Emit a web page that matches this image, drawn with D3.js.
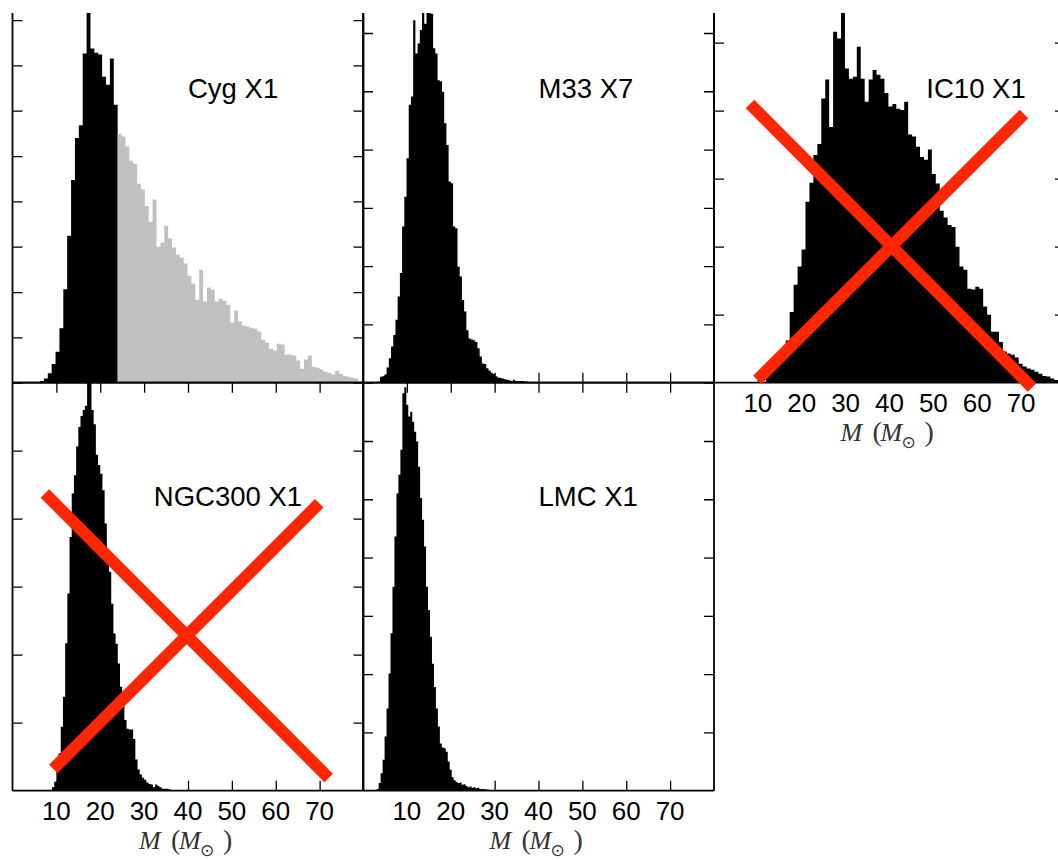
<!DOCTYPE html>
<html><head><meta charset="utf-8">
<script src="https://cdn.jsdelivr.net/npm/d3@7"></script>
<style>html,body{margin:0;padding:0;background:#fff;} svg{display:block;}</style>
</head><body>
<svg id="chart" width="1058" height="860"></svg>
<script>
// ---------------- DATA ----------------
const massDomain = [0, 80];
const xTickValues = [10, 20, 30, 40, 50, 60, 70];
const xTickLabels = ["10", "20", "30", "40", "50", "60", "70"];
const panelNames = ["Cyg X1", "M33 X7", "IC10 X1", "NGC300 X1", "LMC X1"];
const axisTitleMain = "M", axisTitleSub = "⊙";

// Cyg X1 (bin start / width in solar masses)
const cygBinStart = 6.27, cygBinWidth = 0.885;
const cygBlackCounts = [4, 9, 21, 41, 68, 120, 206, 324, 447, 540, 568, 726, 840, 737, 728, 724, 675, 657, 715, 613];
const cygGrayCounts = [549, 543, 521, 490, 483, 439, 426, 390, 355, 404, 300, 309, 346, 318, 298, 282, 276, 263, 236, 218,
  183, 249, 179, 210, 205, 179, 185, 181, 172, 132, 159, 135, 126, 124, 121, 119, 113, 95, 88, 75,
  71, 86, 84, 62, 62, 60, 49, 31, 51, 60, 35, 33, 29, 24, 22, 18, 26, 20, 15, 13, 11, 9, 4];

// M33 X7
const m33BinStart = 2.85, m33BinWidth = 0.505;
const m33Counts = [1, 2, 10, 11, 14, 26, 42, 62, 82, 108, 148, 188, 268, 319, 385, 477, 491, 622, 565, 582,
  605, 645, 616, 645, 638, 633, 574, 565, 519, 517, 499, 445, 408, 345, 342, 268, 265, 199, 182, 142,
  122, 90, 76, 74, 73, 70, 59, 45, 33, 32, 25, 21, 17, 15, 11, 9, 8, 7, 6, 5, 4, 3, 5, 3, 3, 3, 3, 2, 2, 1, 1];

// IC10 X1
const ic10BinStart = 11.85, ic10BinWidth = 0.9;
const ic10Counts = [16, 21, 25, 32, 44, 62, 104, 144, 171, 196, 266, 294, 335, 351, 418, 446, 376, 516, 506, 560,
  462, 447, 450, 494, 447, 413, 446, 460, 453, 447, 426, 406, 410, 403, 401, 413, 365, 362, 347, 332,
  328, 343, 307, 293, 253, 243, 232, 229, 200, 171, 166, 138, 137, 141, 138, 112, 100, 75, 75, 60,
  46, 43, 41, 37, 28, 24, 21, 19, 16, 13, 10, 9, 6, 4];

// NGC300 X1
const ngcBinStart = 9.0, ngcBinWidth = 0.5;
const ngcCounts = [5, 13, 30, 55, 94, 138, 217, 290, 373, 437, 464, 506, 535, 551, 560, 566, 620, 620, 560, 539,
  494, 479, 466, 442, 393, 340, 322, 275, 231, 216, 187, 153, 128, 104, 91, 90, 90, 76, 46, 31,
  24, 19, 16, 12, 10, 9, 5, 9, 7, 5, 3, 3, 3, 2, 1];

// LMC X1
const lmcBinStart = 3.12, lmcBinWidth = 0.45;
const lmcCounts = [3, 13, 30, 53, 93, 141, 201, 270, 350, 436, 510, 542, 585, 682, 692, 662, 642, 650, 633, 616,
  599, 556, 502, 465, 419, 350, 310, 264, 218, 178, 141, 110, 81, 74, 73, 67, 50, 36, 23, 18,
  15, 13, 14, 10, 11, 8, 6, 7, 5, 6, 4, 5, 3, 3, 3, 2, 2, 1];

// y-axis extents (counts) and tick step per panel
const yMaxes = [900, 700, 600, 600, 700];
const yTickStep = 100;

// ---------------- LAYOUT ----------------
const colLeft = [12.5, 363, 714];
const rowBottom = [382.7, 790.7];
const panelW = 351, panelH = 408, visibleTop = 13, tickLen = 10;
const fontSans = "'Liberation Sans', Arial, Helvetica, sans-serif";
const fontSerif = "'Liberation Serif', 'DejaVu Serif', 'Times New Roman', serif";
const redColor = "#ff2600";

const panels = [
  { name: panelNames[0], col: 0, row: 0, yMax: yMaxes[0], labelMass: 40, tickLabels: false,
    series: [
      { start: cygBinStart, width: cygBinWidth, counts: cygBlackCounts, color: "#000" },
      { start: cygBinStart + cygBlackCounts.length * cygBinWidth, width: cygBinWidth, counts: cygGrayCounts, color: "#c0c0c0" }
    ], cross: null },
  { name: panelNames[1], col: 1, row: 0, yMax: yMaxes[1], labelMass: 40, tickLabels: false,
    series: [{ start: m33BinStart, width: m33BinWidth, counts: m33Counts, color: "#000" }], cross: null },
  { name: panelNames[2], col: 2, row: 0, yMax: yMaxes[2], labelMass: 48.4, tickLabels: true,
    series: [{ start: ic10BinStart, width: ic10BinWidth, counts: ic10Counts, color: "#000" }],
    cross: [[[8.2, 410], [72.5, -7]], [[9.87, 4], [70.65, 395]]] },
  { name: panelNames[3], col: 0, row: 1, yMax: yMaxes[3], labelMass: 32.2, tickLabels: true,
    series: [{ start: ngcBinStart, width: ngcBinWidth, counts: ngcCounts, color: "#000" }],
    cross: [[[7.4, 437], [72.07, 18.7]], [[9.3, 32], [69.9, 422.6]]] },
  { name: panelNames[4], col: 1, row: 1, yMax: yMaxes[4], labelMass: 40, tickLabels: true,
    series: [{ start: lmcBinStart, width: lmcBinWidth, counts: lmcCounts, color: "#000" }], cross: null }
];

const svg = d3.select("#chart");
const defs = svg.append("defs");

panels.forEach((p, pi) => {
  const left = colLeft[p.col], bottom = rowBottom[p.row];
  const top = Math.max(bottom - panelH, visibleTop);
  const x = d3.scaleLinear().domain(massDomain).range([left, left + panelW]);
  const y = d3.scaleLinear().domain([0, p.yMax]).range([bottom, bottom - panelH]);
  const g = svg.append("g").attr("class", "panel-" + pi);

  const clipId = "clip" + pi;
  defs.append("clipPath").attr("id", clipId).append("rect")
    .attr("x", left).attr("y", top).attr("width", panelW).attr("height", bottom - top);

  // ticks (inward), drawn below bars
  const yTicks = d3.range(0, p.yMax + 1, yTickStep);
  const tickG = g.append("g").attr("clip-path", `url(#${clipId})`);
  tickG.append("g").attr("transform", `translate(${left},0)`)
    .call(d3.axisRight(y).tickValues(yTicks).tickSize(tickLen).tickFormat(""));
  tickG.append("g").attr("transform", `translate(${left + panelW},0)`)
    .call(d3.axisLeft(y).tickValues(yTicks).tickSize(tickLen).tickFormat(""));
  tickG.append("g").attr("transform", `translate(0,${bottom})`)
    .call(d3.axisTop(x).tickValues(xTickValues).tickSize(tickLen).tickFormat(""));
  tickG.append("g").attr("transform", `translate(0,${bottom - panelH})`)
    .call(d3.axisBottom(x).tickValues(xTickValues).tickSize(tickLen).tickFormat(""));
  tickG.selectAll(".domain").remove();
  tickG.selectAll(".tick line").attr("stroke", "#000").attr("stroke-width", 1.3);

  // histograms as step areas
  const barsG = g.append("g").attr("clip-path", `url(#${clipId})`);
  p.series.forEach(s => {
    const pts = s.counts.map((c, i) => [s.start + i * s.width, c]);
    pts.push([s.start + s.counts.length * s.width, s.counts[s.counts.length - 1]]);
    const area = d3.area().curve(d3.curveStepAfter)
      .x(d => x(d[0])).y0(y(0)).y1(d => y(d[1]));
    barsG.append("path").datum(pts).attr("d", area).attr("fill", s.color);
  });

  // spines
  const sp = g.append("g").attr("stroke", "#000").attr("stroke-width", 1.8).attr("fill", "none");
  sp.append("line").attr("x1", left).attr("x2", left).attr("y1", top).attr("y2", bottom);
  sp.append("line").attr("x1", left + panelW).attr("x2", left + panelW).attr("y1", top).attr("y2", bottom);
  sp.append("line").attr("x1", left).attr("x2", left + panelW).attr("y1", bottom).attr("y2", bottom);
  if (bottom - panelH >= visibleTop)
    sp.append("line").attr("x1", left).attr("x2", left + panelW).attr("y1", bottom - panelH).attr("y2", bottom - panelH);

  // panel title
  g.append("text").attr("x", x(p.labelMass)).attr("y", bottom - 285)
    .attr("font-family", fontSans).attr("font-size", 27.5).attr("fill", "#000")
    .text(p.name);

  // tick labels and axis title
  if (p.tickLabels) {
    g.append("g").selectAll("text").data(xTickValues).join("text")
      .attr("x", d => x(d)).attr("y", bottom + 29.5)
      .attr("text-anchor", "middle").attr("font-family", fontSans).attr("font-size", 26).attr("fill", "#000")
      .text((d, i) => xTickLabels[i]);
    const cx = x(40);
    const t = g.append("text").attr("y", bottom + 58).attr("font-family", fontSerif)
      .attr("font-size", 28).attr("fill", "#333");
    t.append("tspan").attr("x", cx - 49).attr("font-style", "italic").attr("font-size", 26).text(axisTitleMain);
    t.append("tspan").attr("x", cx - 17).text("(");
    t.append("tspan").attr("x", cx - 9).attr("font-style", "italic").attr("font-size", 26).text(axisTitleMain);
    t.append("tspan").attr("x", cx + 12).attr("dy", 7).attr("font-size", 17)
      .attr("font-family", "'DejaVu Sans', sans-serif").text(axisTitleSub);
    t.append("tspan").attr("x", cx + 35).attr("dy", -7).text(")");
  }

  // red cross
  if (p.cross) {
    p.cross.forEach(seg => {
      g.append("line")
        .attr("x1", x(seg[0][0])).attr("y1", y(seg[0][1]))
        .attr("x2", x(seg[1][0])).attr("y2", y(seg[1][1]))
        .attr("stroke", redColor).attr("stroke-width", 12).attr("stroke-linecap", "butt");
    });
  }
});
</script>
</body></html>
